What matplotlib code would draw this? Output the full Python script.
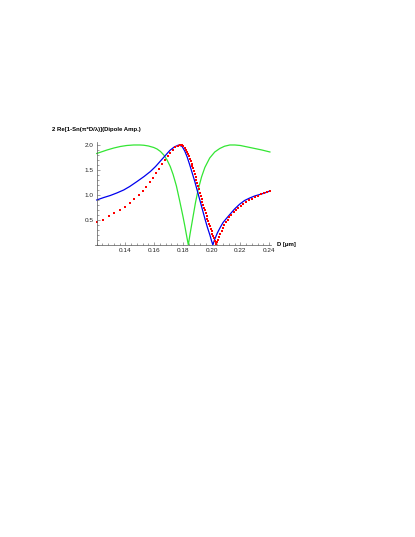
import matplotlib
matplotlib.use("Agg")
import matplotlib.pyplot as plt
from matplotlib.ticker import MultipleLocator, FixedLocator

plt.rcParams['font.family'] = ['Liberation Sans', 'DejaVu Sans']

# ===========================
# curve values
# ===========================
green_x = [0.1200, 0.1272, 0.1320, 0.1365, 0.1410, 0.1458, 0.1500, 0.1528, 0.1560,
           0.1597, 0.1620, 0.1644, 0.1667, 0.1690, 0.1712, 0.1732, 0.1755, 0.1778,
           0.1800, 0.1813, 0.1825, 0.1838, 0.1850, 0.1862, 0.1871, 0.1888, 0.1906,
           0.1930, 0.1953, 0.1987, 0.2022, 0.2057, 0.2090, 0.2127, 0.2162, 0.2200,
           0.2250, 0.2300, 0.2350, 0.2406]
green_y = [1.83, 1.90, 1.94, 1.97, 1.99, 2.00, 2.00, 1.995, 1.98,
           1.95, 1.92, 1.87, 1.80, 1.70, 1.57, 1.41, 1.18, 0.88,
           0.58, 0.39, 0.20, 0.00, 0.22, 0.42, 0.57, 0.85, 1.10,
           1.36, 1.55, 1.74, 1.86, 1.93, 1.975, 2.00, 2.00, 1.99,
           1.96, 1.93, 1.90, 1.86]

blue_x = [0.1200, 0.1250, 0.1295, 0.1340, 0.1388, 0.1430, 0.1481, 0.1530, 0.1574,
          0.1610, 0.1644, 0.1675, 0.1709, 0.1740, 0.1771, 0.1795, 0.1813, 0.1830,
          0.1848, 0.1865, 0.1883, 0.1900, 0.1918, 0.1935, 0.1953, 0.1970, 0.1988,
          0.2000, 0.2009, 0.2020, 0.2040, 0.2060, 0.2080, 0.2100, 0.2127, 0.2160,
          0.2197, 0.2230, 0.2266, 0.2300, 0.2336, 0.2370, 0.2406]
blue_y = [0.90, 0.95, 0.99, 1.04, 1.10, 1.17, 1.27, 1.37, 1.47,
          1.57, 1.68, 1.78, 1.89, 1.96, 2.00, 1.97, 1.88, 1.76,
          1.60, 1.44, 1.27, 1.09, 0.90, 0.72, 0.53, 0.36, 0.20,
          0.08, 0.00, 0.10, 0.24, 0.35, 0.45, 0.52, 0.61, 0.72,
          0.82, 0.89, 0.94, 0.98, 1.01, 1.04, 1.08]

red_x = [0.1200, 0.1242, 0.1284, 0.1323, 0.1360, 0.1395, 0.1430, 0.1463, 0.1493,
         0.1523, 0.1546, 0.1569, 0.1592, 0.1613, 0.1634, 0.1655, 0.1674, 0.1693,
         0.1712, 0.1730, 0.1748, 0.1765, 0.1780, 0.1792, 0.1803, 0.1813, 0.1822,
         0.1830, 0.1837, 0.1843, 0.1849, 0.1855, 0.1861, 0.1866, 0.1871, 0.1877,
         0.1883, 0.1889, 0.1894, 0.1900, 0.1906, 0.1912, 0.1918, 0.1924, 0.1930,
         0.1935, 0.1941, 0.1947, 0.1953, 0.1959, 0.1965, 0.1970, 0.1976, 0.1982,
         0.1988, 0.1994, 0.2000, 0.2006, 0.2011, 0.2017, 0.2023, 0.2029, 0.2034,
         0.2040, 0.2046, 0.2053, 0.2061, 0.2069, 0.2078, 0.2088, 0.2099, 0.2111,
         0.2124, 0.2138, 0.2153, 0.2169, 0.2186, 0.2204, 0.2222, 0.2241, 0.2260,
         0.2280, 0.2300, 0.2321, 0.2342, 0.2363, 0.2384, 0.2406]
red_y = [0.45, 0.50, 0.57, 0.63, 0.70, 0.76, 0.83, 0.91, 0.99,
         1.08, 1.16, 1.25, 1.34, 1.43, 1.52, 1.61, 1.69, 1.77,
         1.84, 1.90, 1.95, 1.98, 2.00, 1.99, 1.97, 1.94, 1.90,
         1.86, 1.82, 1.77, 1.72, 1.67, 1.62, 1.57, 1.53, 1.47,
         1.41, 1.35, 1.29, 1.23, 1.17, 1.11, 1.04, 0.98, 0.92,
         0.86, 0.80, 0.74, 0.69, 0.63, 0.57, 0.52, 0.47, 0.42,
         0.37, 0.32, 0.27, 0.22, 0.17, 0.13, 0.08, 0.04, 0.01,
         0.05, 0.10, 0.16, 0.22, 0.28, 0.34, 0.39, 0.45, 0.50,
         0.55, 0.60, 0.65, 0.70, 0.74, 0.78, 0.82, 0.86, 0.89,
         0.92, 0.95, 0.98, 1.01, 1.03, 1.05, 1.08]

x_ticks = [0.14, 0.16, 0.18, 0.20, 0.22, 0.24]
y_ticks = [0.5, 1.0, 1.5, 2.0]
y_label = "2 Re[1-Sn(\u03c0*D/\u03bb)](Dipole Amp.)"
x_label = "D [\u03bcm]"

# ===========================
# figure
# ===========================
fig = plt.figure(figsize=(4.15, 5.37), dpi=100)
ax = fig.add_axes([0.2292, 0.5438, 0.4236, 0.1918])

ax.plot(green_x, green_y, color='#33e633', lw=0.9)
ax.plot(blue_x, blue_y, color='#0000ee', lw=0.9)
ax.plot(red_x, red_y, ls='none', marker='s', ms=1.9, mew=0, color='#ff0000')

ax.set_xlim(0.1189, 0.2413)
ax.set_ylim(0, 2.06)

ax.spines['top'].set_visible(False)
ax.spines['right'].set_visible(False)
ax.spines['left'].set_position(('data', 0.12))
for s in ('left', 'bottom'):
    ax.spines[s].set_color('#555555')
    ax.spines[s].set_linewidth(0.5)

ax.xaxis.set_major_locator(FixedLocator(x_ticks))
ax.xaxis.set_minor_locator(MultipleLocator(0.004))
ax.yaxis.set_major_locator(FixedLocator(y_ticks))
ax.yaxis.set_minor_locator(MultipleLocator(0.1))
ax.set_xticklabels([f"{v:.2f}" for v in x_ticks])
ax.set_yticklabels([f"{v:.1f}" for v in y_ticks])

ax.tick_params(which='both', direction='in', color='#555555', width=0.4,
               labelsize=4.6, labelcolor='#222222', pad=2)
ax.tick_params(which='major', length=2.5)
ax.tick_params(which='minor', length=1.5)

ax.annotate(x_label, xy=(1, 0), xycoords='axes fraction', xytext=(4.5, 0),
            textcoords='offset points', ha='left', va='center', fontsize=4.3,
            fontweight='bold')
ax.annotate(y_label, xy=(0.12, 2.06), xycoords='data', xytext=(0, 7),
            textcoords='offset points', ha='center', va='bottom', fontsize=4.3,
            fontweight='bold')

fig.savefig("out.png", dpi=100)
